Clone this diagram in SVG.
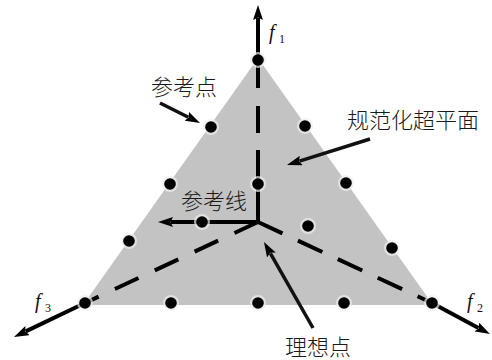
<svg xmlns="http://www.w3.org/2000/svg" width="492" height="360" viewBox="0 0 492 360">
<style>
.plane{fill:#c3c3c3;}
.ax{stroke:#000;stroke-width:4;fill:none;}
.dash{stroke:#000;stroke-width:4;fill:none;}
.ptr{stroke:#111;stroke-width:3.5;fill:none;}
.halo{fill:#eeeeee;opacity:0.7;}
.dot{fill:#000;}
.cjk{font-family:"Noto Sans CJK SC","Noto Sans",sans-serif;font-size:22px;font-weight:300;fill:#1a1a1a;}
.f{font-family:"Liberation Serif",serif;font-style:italic;font-size:20px;fill:#111;}
.sub{font-family:"Liberation Serif",serif;font-size:12px;fill:#111;}
</style>
<defs>
<marker id="ah" markerUnits="userSpaceOnUse" markerWidth="15" markerHeight="10" viewBox="0 0 15 10" refX="2" refY="5" orient="auto">
<path d="M0,0 L15,5 L0,10 L2.5,5 z" fill="#000"/>
</marker>
<g id="pt"><circle class="halo" r="8"/><circle class="dot" r="5.8"/></g>
</defs>
<rect width="492" height="360" fill="#fff"/>
<g id="hyperplane"><polygon class="plane" points="258,58 83,305 433,305"/></g>
<g id="connectors">
<line class="ax" x1="258" y1="60" x2="258" y2="18" marker-end="url(#ah)"/>
<line class="ax" x1="85" y1="303" x2="25.7" y2="331.4" marker-end="url(#ah)"/>
<line class="ax" x1="432" y1="303" x2="478.5" y2="327.9" marker-end="url(#ah)"/>
<line class="ax" x1="258" y1="222" x2="258" y2="184"/>
<line class="dash" x1="258" y1="184" x2="258" y2="62" stroke-dasharray="34 17 27 18 30"/>
<line class="dash" x1="258" y1="222" x2="85" y2="303" stroke-dasharray="26 18"/>
<line class="dash" x1="258" y1="222" x2="432" y2="303" stroke-dasharray="27 17"/>
<line class="ax" x1="258" y1="222" x2="171" y2="222" marker-end="url(#ah)"/>
<line class="ptr" x1="160" y1="103" x2="188.4" y2="117.2" marker-end="url(#ah)"/>
<line class="ptr" x1="370" y1="139" x2="299.4" y2="161.1" marker-end="url(#ah)"/>
<line class="ptr" x1="313" y1="328" x2="270.4" y2="253.3" marker-end="url(#ah)"/>
</g>
<g id="points">
<use href="#pt" x="258" y="60"/>
<use href="#pt" x="211" y="127"/>
<use href="#pt" x="305" y="126"/>
<use href="#pt" x="170" y="184"/>
<use href="#pt" x="258" y="184"/>
<use href="#pt" x="346" y="183"/>
<use href="#pt" x="129" y="241"/>
<use href="#pt" x="202" y="222"/>
<use href="#pt" x="308" y="226"/>
<use href="#pt" x="392" y="248"/>
<use href="#pt" x="85" y="303"/>
<use href="#pt" x="171" y="303"/>
<use href="#pt" x="258" y="303"/>
<use href="#pt" x="344" y="303"/>
<use href="#pt" x="432" y="303"/>
</g>
<g id="label-f1"><text class="f" x="269" y="39">f</text><text class="sub" x="279" y="43">1</text></g>
<g id="label-f2"><text class="f" x="467" y="308">f</text><text class="sub" x="477" y="312">2</text></g>
<g id="label-f3"><text class="f" x="35" y="308">f</text><text class="sub" x="45" y="312">3</text></g>
<g id="label-ref-point"><text class="cjk" x="151" y="95">参考点</text></g>
<g id="label-ref-line"><text class="cjk" x="181" y="209">参考线</text></g>
<g id="label-plane"><text class="cjk" x="347" y="128">规范化超平面</text></g>
<g id="label-ideal"><text class="cjk" x="285" y="355">理想点</text></g>
</svg>
